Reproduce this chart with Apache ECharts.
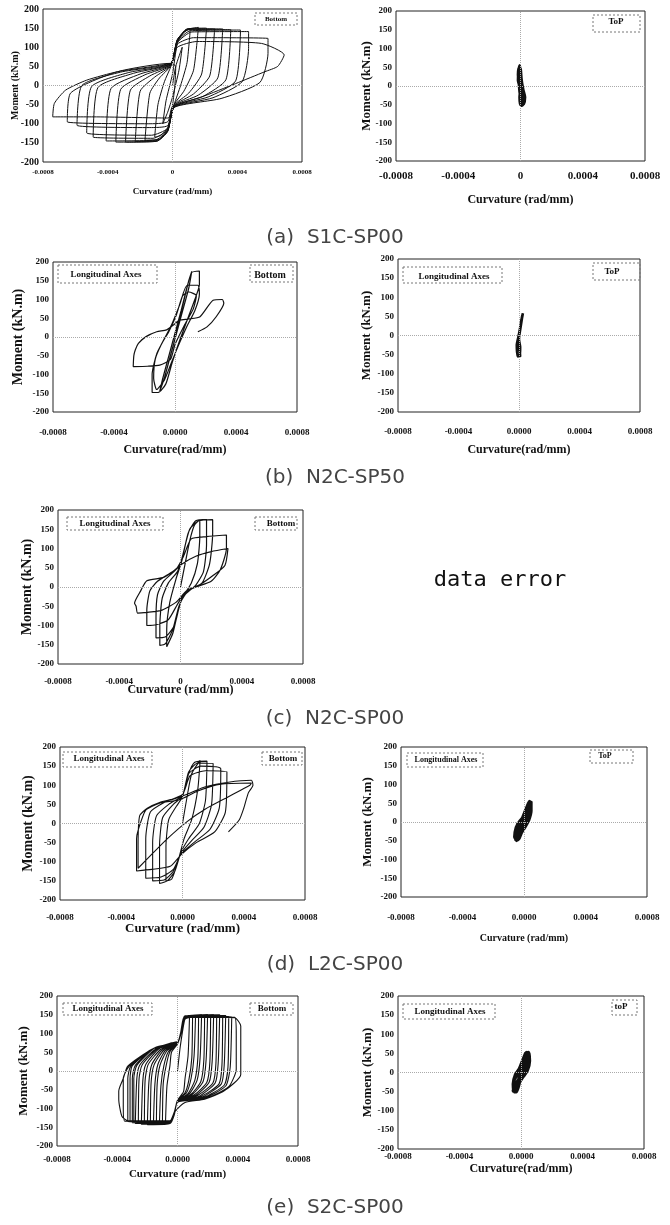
<!DOCTYPE html>
<html>
<head>
<meta charset="utf-8">
<title>Moment - Curvature</title>
<script src="https://cdn.jsdelivr.net/npm/echarts@6.0.0/dist/echarts.min.js"></script>
<style>
  html, body { margin: 0; padding: 0; background: #fff; }
  #chart { width: 670px; height: 1225px; }
</style>
</head>
<body>
<div id="chart"></div>
<script>
// curvature is kept in 1e-4 rad/mm, moment in kN.m
var xTicksZero = ['-0.0008', '-0.0004', '0', '0.0004', '0.0008'];
var xTicksFour = ['-0.0008', '-0.0004', '0.0000', '0.0004', '0.0008'];
var yTicks = ['-200', '-150', '-100', '-50', '0', '50', '100', '150', '200'];
var captions = ['(a)  S1C-SP00', '(b)  N2C-SP50', '(c)  N2C-SP00', '(d)  L2C-SP00', '(e)  S2C-SP00'];

// (a) S1C-SP00 bottom
var aBottom = [[0,0],[0.2,50],[0.6,100],[0.4,40],[0,-30],[-0.3,-70],[-0.6,-100],[-0.4,-40],[0,30],
  [0.3,110],[0.7,140],[1.1,148],[0.9,60],[0.5,0],[0.1,-50],[-0.3,-110],[-0.7,-130],[-1.1,-135],[-0.9,-50],[-0.5,10],[-0.1,50],
  [0.3,115],[0.8,145],[1.6,152],[1.3,40],[0.7,-15],[0.1,-50],[-0.3,-115],[-0.8,-140],[-1.7,-143],[-1.4,-20],[-0.8,20],[-0.1,52],
  [0.3,118],[0.9,148],[2.1,150],[1.8,30],[1.0,-20],[0.1,-52],[-0.3,-118],[-0.9,-143],[-2.3,-146],[-2.0,-15],[-1.1,22],[-0.1,53],
  [0.3,120],[1.0,148],[2.6,148],[2.3,25],[1.3,-22],[0.1,-53],[-0.3,-120],[-1.0,-146],[-2.9,-148],[-2.6,-12],[-1.4,25],[-0.1,54],
  [0.3,120],[1.0,147],[3.1,148],[2.8,20],[1.6,-25],[0.1,-54],[-0.3,-120],[-1.0,-146],[-3.5,-148],[-3.2,-10],[-1.7,28],[-0.1,55],
  [0.3,118],[1.0,146],[3.6,146],[3.3,15],[1.9,-28],[0.1,-55],[-0.3,-118],[-1.1,-143],[-4.1,-145],[-3.8,-8],[-2.0,30],[-0.1,56],
  [0.3,115],[1.1,143],[4.2,145],[3.9,12],[2.2,-30],[0.1,-56],[-0.3,-115],[-1.2,-138],[-4.9,-135],[-4.6,-5],[-2.4,32],[-0.1,57],
  [0.3,112],[1.2,140],[4.7,141],[4.7,97],[4.3,10],[2.5,-32],[0.1,-57],[-0.3,-112],[-1.3,-130],[-5.3,-124],[-5.0,-3],[-2.7,34],[-0.1,57],
  [0.3,108],[1.3,125],[5.9,123],[5.9,84],[5.4,8],[3.0,-34],[0.1,-57],[-0.3,-105],[-1.4,-110],[-5.9,-104],[-5.6,0],[-3.2,35],[-0.1,58],
  [0.3,100],[1.5,115],[5.5,110],[6.9,80],[6.5,50],[5.7,36],[3.9,5],[1.8,-30],[0,-56],[-0.3,-95],[-1.5,-100],[-6.5,-95],[-6.3,-20],[-3.4,36],[-0.1,58],
  [0.2,50],[0.1,-20],[-0.3,-85],[-4.9,-82],[-7.4,-82],[-7.3,-47],[-6.6,-12],[-5.3,14],[-3.4,36],[-1.35,49],[0,58]];

// (a) S1C-SP00 top
var aTop = [[0,0],[-0.1,25],[-0.08,50],[0,45],[0.05,20],[0.15,-10],[0.25,-30],[0.15,-50],[0.05,-52],[0,-35],[0,-10],
  [-0.15,15],[-0.12,40],[-0.05,55],[-0.02,35],[0.1,5],[0.2,-20],[0.2,-45],[0.05,-40],[-0.05,-15],[-0.1,10],[-0.15,30],
  [-0.1,48],[0,30],[0.1,0],[0.28,-30],[0.2,-48],[0,-50],[-0.05,-30],[0.05,-5],[0.15,-25],[0.1,-40],[0.02,-20],
  [-0.05,5],[-0.1,35],[-0.06,52],[-0.04,20],[0.08,-8],[0.22,-35],[0.1,-50]];

// (b) N2C-SP50 bottom
var bBottom = [[0,0],[0.3,50],[0.6,100],[0.9,150],[1.1,175],[0.9,130],[0.5,70],[0.1,10],[-0.3,-50],[-0.7,-110],[-1.0,-145],[-0.8,-110],[-0.4,-50],
  [0,10],[0.4,70],[0.8,135],[1.1,172],[1.6,176],[1.6,140],[1.3,100],[0.8,45],[0.3,-10],[-0.2,-70],[-0.6,-125],[-1.1,-148],[-1.5,-148],[-1.5,-100],[-1.2,-45],[-0.7,-5],
  [-0.2,35],[0.3,85],[0.8,138],[1.5,138],[1.6,115],[1.3,70],[0.8,30],[0.2,-25],[-0.3,-75],[-0.7,-115],[-1.2,-140],[-1.4,-110],[-1.3,-60],[-0.9,-20],[-0.4,15],
  [0.1,60],[0.5,110],[0.9,120],[1.4,110],[1.2,75],[0.6,30],[0,-20],[-0.3,-60],[-1.0,-75],[-1.8,-78],[-2.74,-79],[-2.7,-50],[-2.6,-34],[-2.4,-17],[-1.9,1],[-1.2,14],[-0.55,19],[-0.1,32],
  [0.3,45],[0.9,48],[1.64,54],[2.5,98],[3.1,100],[3.2,90],[2.7,54],[2.1,27],[1.5,14]];

// (b) N2C-SP50 top
var bTop = [[0,0],[0.1,20],[0.2,45],[0.26,58],[0.2,50],[0.1,25],[0.02,5],[-0.1,-15],[-0.12,-40],[-0.08,-55],[0.05,-50],[0.08,-30],[0,-10],
  [0.05,10],[0.15,35],[0.24,55],[0.15,40],[0.05,15],[-0.05,-5],[-0.15,-25],[-0.1,-50],[0.08,-55],[0.05,-40],[-0.05,-20],[0.02,0],[0.12,25],[0.22,50]];

// (c) N2C-SP00 bottom
var cBottom = [[0,0],[0.3,60],[0.6,120],[0.9,160],[1.26,175],[1.26,130],[1.1,60],[0.7,10],[0.1,-30],[-0.2,-70],[-0.5,-120],[-0.9,-155],[-0.9,-110],[-0.7,-40],[-0.3,20],
  [0.1,70],[0.5,140],[1.0,172],[1.7,175],[1.7,110],[1.5,40],[1.0,5],[0.3,-20],[-0.1,-50],[-0.5,-110],[-1.0,-148],[-1.35,-152],[-1.35,-100],[-1.2,-30],[-0.8,10],[-0.2,40],
  [0.1,75],[0.6,150],[1.2,172],[2.1,175],[2.1,139],[1.9,60],[1.4,10],[0.5,-10],[0,-40],[-0.4,-100],[-1.0,-130],[-1.6,-132],[-1.6,-80],[-1.5,-20],[-1.1,15],[-0.3,45],
  [0.2,80],[0.7,125],[1.7,131],[3.0,135],[3.0,100],[2.6,45],[2.0,15],[1.0,0],[0.3,-15],[-0.2,-45],[-0.8,-85],[-1.6,-98],[-2.2,-100],[-2.2,-60],[-2.0,-10],[-1.5,15],[-0.5,40],
  [0.1,60],[1.0,80],[2.0,92],[3.1,100],[2.9,56],[2.1,29],[1.3,7],[0.4,-10],[-0.3,-40],[-1.2,-60],[-2.2,-66],[-2.8,-68],[-2.9,-50],[-3.0,-42],[-2.6,-10],[-2.2,16],[-1.1,25],[-0.26,47],[0.1,60]];

// (d) L2C-SP00 bottom
var dBottom = [[0,0],[0.3,70],[0.6,130],[1.15,165],[1.0,90],[0.6,10],[0.1,-40],[-0.3,-100],[-0.7,-145],[-1.08,-150],[-1.08,-60],[-0.9,10],[-0.4,45],
  [0,70],[0.4,130],[0.8,160],[1.6,163],[1.5,60],[1.1,0],[0.4,-40],[-0.1,-75],[-0.5,-125],[-1.0,-150],[-1.5,-157],[-1.5,-60],[-1.3,15],[-0.6,50],
  [0,72],[0.4,135],[1.0,158],[2.0,157],[1.9,50],[1.4,-10],[0.6,-45],[-0.1,-78],[-0.6,-125],[-1.2,-148],[-1.95,-150],[-1.95,-50],[-1.7,20],[-0.9,50],
  [0,74],[0.4,130],[1.2,150],[2.5,143],[2.4,40],[1.8,-15],[0.8,-48],[-0.1,-80],[-0.6,-120],[-1.4,-140],[-2.4,-143],[-2.4,-40],[-2.1,30],[-1.2,55],
  [0,76],[0.5,125],[1.5,138],[2.9,135],[2.8,30],[2.1,-22],[0.9,-50],[-0.1,-82],[-0.8,-112],[-2.0,-120],[-3.0,-124],[-3.0,-40],[-2.9,-18],[-2.4,35],[-1.5,53],[-0.2,62],
  [1.0,85],[2.5,103],[4.5,106],[4.4,100],[3.0,70],[1.5,38],[0.3,5],[-1.0,-40],[-2.0,-80],[-2.9,-117],[-2.9,-60],[-2.8,20],[-2.3,40],[-1.5,55],[-0.5,65],
  [0.5,80],[1.5,96],[3.0,108],[4.5,113],[4.6,100],[4.3,80],[4.0,40],[3.7,9],[3.0,-22]];

// (d) L2C-SP00 top
var dTop = [[0,0],[0.15,25],[0.3,50],[0.45,55],[0.45,30],[0.3,5],[0.1,-10],[-0.2,-30],[-0.45,-48],[-0.6,-40],[-0.5,-15],[-0.3,0],
  [0,15],[0.2,40],[0.35,55],[0.4,35],[0.25,10],[0,-5],[-0.3,-25],[-0.55,-50],[-0.35,-45],[-0.1,-20],[0.1,5],[0.25,25],[0.42,45],
  [0.3,20],[0.05,-5],[-0.25,-30],[-0.5,-30],[-0.4,-5],[-0.15,5],[0.05,25],[0.25,45],[0.35,30],[0.15,5],[-0.1,-10],[-0.35,-35],
  [-0.45,-25],[-0.2,-10],[0.1,10],[0.3,35],[0.2,20],[-0.05,0],[-0.3,-15],[-0.4,-40]];

// (e) S2C-SP00 bottom
var eBottom = [[0,0],[0.2,70],[0.5,140],[0.8,148],[0.7,40],[0.5,-20],[0.4,-55],[0,-78],[-0.2,-110],[-0.5,-138],[-0.8,-142],[-0.7,-40],[-0.5,15],[-0.4,50],[0,72],
  [0.2,95],[0.5,138],[1.0,144],[0.95,35],[0.75,-25],[0.5,-58],[0,-78],[-0.2,-108],[-0.5,-135],[-1.0,-139],[-0.95,-35],[-0.75,15],[-0.5,52],[0,73],
  [0.2,100],[0.5,142],[1.2,148],[1.1,40],[0.9,-20],[0.6,-58],[0,-78],[-0.2,-112],[-0.5,-138],[-1.2,-142],[-1.1,-40],[-0.9,15],[-0.6,52],[0,73],
  [0.2,95],[0.5,140],[1.4,146],[1.35,35],[1.15,-25],[0.7,-60],[0,-79],[-0.2,-110],[-0.5,-137],[-1.4,-140],[-1.35,-35],[-1.15,17],[-0.7,54],[0,74],
  [0.2,100],[0.5,144],[1.6,150],[1.5,35],[1.3,-25],[0.8,-60],[0,-79],[-0.2,-112],[-0.5,-140],[-1.6,-143],[-1.5,-35],[-1.3,18],[-0.8,55],[0,74],
  [0.2,95],[0.5,142],[1.8,147],[1.75,30],[1.55,-28],[0.9,-62],[0,-80],[-0.2,-112],[-0.5,-138],[-1.8,-140],[-1.75,-30],[-1.55,17],[-0.9,56],[0,75],
  [0.2,100],[0.5,145],[2.0,150],[1.9,30],[1.7,-28],[1.0,-62],[0,-80],[-0.2,-114],[-0.5,-140],[-2.0,-143],[-1.9,-30],[-1.7,18],[-1.0,57],[0,75],
  [0.2,95],[0.5,143],[2.2,147],[2.15,25],[1.95,-30],[1.1,-64],[0,-80],[-0.2,-113],[-0.5,-138],[-2.2,-140],[-2.15,-25],[-1.95,17],[-1.1,58],[0,75],
  [0.2,100],[0.5,146],[2.4,150],[2.3,25],[2.1,-30],[1.2,-65],[0,-80],[-0.2,-115],[-0.5,-140],[-2.4,-142],[-2.3,-25],[-2.1,18],[-1.2,60],[0,75],
  [0.2,95],[0.5,144],[2.6,147],[2.55,20],[2.35,-32],[1.3,-66],[0,-81],[-0.2,-113],[-0.5,-138],[-2.6,-138],[-2.55,-20],[-2.35,16],[-1.3,60],[0,76],
  [0.2,100],[0.5,147],[2.8,150],[2.7,20],[2.5,-32],[1.4,-68],[0,-81],[-0.2,-115],[-0.5,-140],[-2.8,-140],[-2.7,-20],[-2.5,16],[-1.4,60],[0,76],
  [0.2,95],[0.5,144],[3.0,146],[2.95,15],[2.75,-35],[1.5,-69],[0,-82],[-0.2,-113],[-0.5,-136],[-2.9,-136],[-2.9,-20],[-2.7,15],[-1.5,61],[0,76],
  [0.2,100],[0.5,147],[3.2,148],[3.1,15],[2.9,-35],[1.6,-70],[0,-82],[-0.2,-115],[-0.5,-138],[-3.0,-138],[-3.0,-20],[-2.8,15],[-1.5,62],[0,76],
  [0.2,95],[0.5,144],[3.4,145],[3.35,10],[3.1,-38],[1.7,-71],[0,-82],[-0.2,-112],[-0.5,-135],[-3.15,-135],[-3.15,-20],[-3.0,14],[-1.6,60],[0,77],
  [0.2,100],[0.5,146],[3.6,145],[3.5,10],[3.2,-40],[1.8,-72],[0,-83],[-0.2,-112],[-0.5,-136],[-3.3,-135],[-3.3,-20],[-3.1,13],[-1.7,58],[0,77],
  [0.2,95],[0.5,143],[3.8,143],[3.9,100],[3.9,5],[3.4,-42],[1.9,-73],[0,-83],[-0.2,-111],[-0.5,-134],[-3.5,-134],[-3.6,-100],[-3.6,-20],[-3.2,13],[-1.7,58],[0,77],
  [0.2,100],[0.5,145],[3.8,142],[4.2,120],[4.2,-9],[3.1,-53],[1.8,-75],[0.5,-84],[-0.2,-110],[-0.5,-133],[-3.3,-133],[-3.7,-120],[-3.9,-75],[-3.9,-53],[-3.6,-20],[-3.3,13],[-1.7,58],[-0.4,75],[0,78]];

// (e) S2C-SP00 top
var eTop = [[0,0],[0.15,25],[0.3,50],[0.5,52],[0.55,30],[0.4,5],[0.15,-10],[-0.2,-30],[-0.45,-50],[-0.5,-30],[-0.35,-5],[-0.1,10],
  [0.15,35],[0.35,52],[0.5,40],[0.35,10],[0.1,-5],[-0.25,-25],[-0.5,-48],[-0.3,-50],[-0.1,-25],[0.05,0],[0.2,20],[0.3,45],
  [0.45,50],[0.5,20],[0.2,0],[-0.1,-15],[-0.4,-40],[-0.45,-20],[-0.2,-5],[0.1,15],[0.35,40],[0.4,25],[0.2,5],[-0.15,-20],
  [-0.35,-45],[-0.25,-35],[0,-10],[0.25,30]];

// layout of each small plot (box = left, top, width, height)
var panels = [
  {data: aBottom, box: [43, 9, 259, 153], ticks: xTicksZero, xFont: 7, yFont: 10, xMargin: 7, xName: 'Curvature (rad/mm)', xNameFont: 9, xNameGap: 25, yNameFont: 10, yNameGap: 23, lw: 1},
  {data: aTop, box: [396, 11, 249, 150], ticks: xTicksZero, xFont: 11, yFont: 9, xMargin: 10, xName: 'Curvature (rad/mm)', xNameFont: 12, xNameGap: 33, yNameFont: 13, yNameGap: 23, lw: 3},
  {data: bBottom, box: [53, 262, 244, 150], ticks: xTicksFour, xFont: 9, yFont: 9, xMargin: 16, xName: 'Curvature(rad/mm)', xNameFont: 12, xNameGap: 32, yNameFont: 14, yNameGap: 28, lw: 1.2},
  {data: bTop, box: [398, 259, 242, 153], ticks: xTicksFour, xFont: 9, yFont: 9, xMargin: 15, xName: 'Curvature(rad/mm)', xNameFont: 12, xNameGap: 32, yNameFont: 13, yNameGap: 25, lw: 2.5},
  {data: cBottom, box: [58, 510, 245, 154], ticks: xTicksZero, xFont: 9, yFont: 9, xMargin: 13, xName: 'Curvature (rad/mm)', xNameFont: 12, xNameGap: 20, yNameFont: 14, yNameGap: 24, lw: 1.2},
  {data: dBottom, box: [60, 747, 245, 153], ticks: xTicksFour, xFont: 9, yFont: 9, xMargin: 13, xName: 'Curvature (rad/mm)', xNameFont: 13, xNameGap: 22, yNameFont: 14, yNameGap: 25, lw: 1.1},
  {data: dTop, box: [401, 747, 246, 150], ticks: xTicksFour, xFont: 9, yFont: 9, xMargin: 16, xName: 'Curvature (rad/mm)', xNameFont: 10, xNameGap: 36, yNameFont: 13, yNameGap: 27, lw: 3.5},
  {data: eBottom, box: [57, 996, 241, 150], ticks: xTicksFour, xFont: 9, yFont: 9, xMargin: 9, xName: 'Curvature (rad/mm)', xNameFont: 11, xNameGap: 23, yNameFont: 13, yNameGap: 27, lw: 1.1},
  {data: eTop, box: [398, 996, 246, 153], ticks: xTicksFour, xFont: 9, yFont: 9, xMargin: 3, xName: 'Curvature(rad/mm)', xNameFont: 12, xNameGap: 14, yNameFont: 13, yNameGap: 24, lw: 3.5}
];

// legend boxes: x, y, w, h, text, font size, text x, text y
var tags = [
  [255, 13, 42, 12, 'Bottom', 7, 276, 19],
  [593, 15, 47, 17, 'ToP', 9, 616, 22],
  [58, 265, 99, 18, 'Longitudinal Axes', 9, 106, 275],
  [250, 265, 43, 17, 'Bottom', 10, 270, 275],
  [403, 267, 99, 16, 'Longitudinal Axes', 9, 454, 277],
  [593, 263, 47, 17, 'ToP', 9, 612, 272],
  [67, 517, 96, 13, 'Longitudinal Axes', 9, 115, 524],
  [255, 517, 42, 13, 'Bottom', 9, 281, 524],
  [63, 752, 89, 15, 'Longitudinal Axes', 9, 109, 759],
  [262, 752, 40, 13, 'Bottom', 9, 283, 759],
  [407, 753, 76, 14, 'Longitudinal Axes', 8, 446, 760],
  [590, 750, 43, 13, 'ToP', 8, 605, 756],
  [63, 1003, 89, 12, 'Longitudinal Axes', 9, 108, 1009],
  [250, 1003, 43, 12, 'Bottom', 9, 272, 1009],
  [403, 1004, 92, 15, 'Longitudinal Axes', 9, 450, 1012],
  [612, 1000, 25, 15, 'toP', 9, 621, 1007]
];
var captionY = [238, 478, 719, 965, 1208];

var serif = '"Liberation Serif", "Times New Roman", serif';
var grids = [], xAxes = [], yAxes = [], series = [], graphics = [];

panels.forEach(function (p, i) {
  grids.push({left: p.box[0], top: p.box[1], width: p.box[2], height: p.box[3],
    show: true, borderColor: '#222', borderWidth: 1, backgroundColor: 'transparent', containLabel: false});
  xAxes.push({
    type: 'value', gridIndex: i, min: -8, max: 8, interval: 4,
    axisLine: {show: false}, axisTick: {show: false}, splitLine: {show: false},
    axisLabel: {margin: p.xMargin, color: '#111', fontFamily: serif, fontWeight: 'bold', fontSize: p.xFont,
      formatter: function (v) { return p.ticks[Math.round((v + 8) / 4)]; }},
    name: p.xName, nameLocation: 'middle', nameGap: p.xNameGap, nameMoveOverlap: false,
    nameTextStyle: {color: '#111', fontFamily: serif, fontWeight: 'bold', fontSize: p.xNameFont}
  });
  yAxes.push({
    type: 'value', gridIndex: i, min: -200, max: 200, interval: 50,
    axisLine: {show: false}, axisTick: {show: false}, splitLine: {show: false},
    axisLabel: {margin: 4, color: '#111', fontFamily: serif, fontWeight: 'bold', fontSize: p.yFont,
      formatter: function (v) { return yTicks[Math.round((v + 200) / 50)]; }},
    name: 'Moment (kN.m)', nameLocation: 'middle', nameRotate: 90, nameGap: p.yNameGap, nameMoveOverlap: false,
    nameTextStyle: {color: '#111', fontFamily: serif, fontWeight: 'bold', fontSize: p.yNameFont}
  });
  series.push({
    type: 'line', xAxisIndex: i, yAxisIndex: i, data: p.data,
    showSymbol: false, smooth: 0.2, silent: true,
    lineStyle: {color: '#111', width: p.lw},
    markLine: {
      silent: true, symbol: ['none', 'none'], label: {show: false},
      lineStyle: {type: 'dotted', color: '#aaa', width: 1},
      data: [{xAxis: 0}, {yAxis: 0}]
    }
  });
});

tags.forEach(function (t) {
  graphics.push({type: 'rect', shape: {x: t[0], y: t[1], width: t[2], height: t[3]},
    style: {fill: 'none', stroke: '#777', lineWidth: 1, lineDash: [2, 2]}});
  graphics.push({type: 'text', x: t[6], y: t[7],
    style: {text: t[4], font: 'bold ' + t[5] + 'px ' + serif, fill: '#111', align: 'center', verticalAlign: 'middle'}});
});

captions.forEach(function (c, i) {
  graphics.push({type: 'text', x: 335, y: captionY[i],
    style: {text: c, font: '20px "DejaVu Sans", sans-serif', fill: '#444', align: 'center', verticalAlign: 'middle'}});
});

graphics.push({type: 'text', x: 500, y: 580,
  style: {text: 'data error', font: '22px "DejaVu Sans Mono", monospace', fill: '#111', align: 'center', verticalAlign: 'middle'}});

var chart = echarts.init(document.getElementById('chart'), null, {renderer: 'canvas'});
chart.setOption({
  animation: false,
  backgroundColor: '#fff',
  grid: grids,
  xAxis: xAxes,
  yAxis: yAxes,
  series: series,
  graphic: graphics
});
</script>
</body>
</html>
